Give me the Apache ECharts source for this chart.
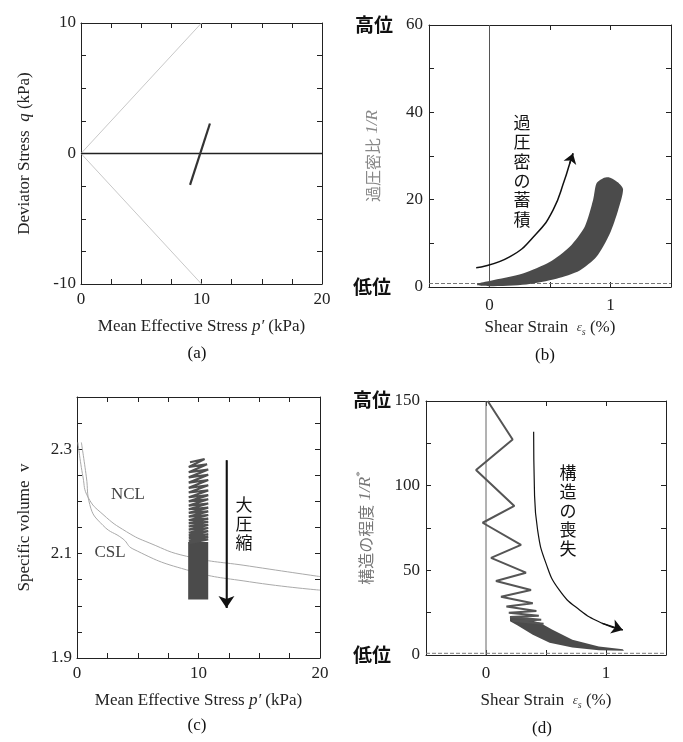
<!DOCTYPE html>
<html>
<head>
<meta charset="utf-8">
<script src="https://cdn.jsdelivr.net/npm/echarts@6/dist/echarts.min.js"></script>
<style>html,body{margin:0;background:#fff}#main{width:683px;height:742px}</style>
</head>
<body>
<div id="main"></div>
<script>
// (a) stress path
var aEnvUpper = [[0, 0], [10, 10]];
var aEnvLower = [[0, 0], [10, -10]];
var aZero = [[0, 0], [20, 0]];
var aPath = [[9.05, -2.4], [10.7, 2.3]];
var aXLabels = [0, 10, 20];
var aYLabels = [-10, 0, 10];

// (b) overconsolidation ratio 1/R
var bBand = [[-0.1, 0.8], [0, 1.4], [0.276, 3.1], [0.497, 5.7], [0.663, 9.2], [0.787, 13.8], [0.856, 19.9],
  [0.884, 23.7], [0.939, 24.9], [0.99, 25.1], [1.06, 24], [1.104, 22.4], [1.063, 17.6], [0.994, 12.2],
  [0.884, 6.9], [0.746, 3.8], [0.553, 1.9], [0.304, 0.6], [0, 0.2], [-0.1, 0.4]];
var bArrow = [[-0.11, 4.4], [0.166, 6.9], [0.387, 12.2], [0.525, 17.6], [0.62, 24.5], [0.663, 28.3], [0.69, 30.6]];
var bDash = [[-0.5, 0.8], [1.5, 0.8]];
var bZeroX = [[0, 0], [0, 60]];
var bXLabels = [0, 1];
var bYLabels = [0, 20, 40, 60];

// (c) specific volume
var cNCL = [[0.08, 2.313], [0.49, 2.247], [0.91, 2.208], [2.14, 2.175], [4.07, 2.142], [6, 2.12],
  [9, 2.095], [14.2, 2.076], [20, 2.056]];
var cCSL = [[0.36, 2.313], [0.77, 2.247], [1.05, 2.194], [2.14, 2.154], [3.79, 2.128], [4.6, 2.109],
  [9, 2.069], [14.2, 2.046], [20, 2.03]];
var cZig = [[9.3, 2.275], [10.5, 2.281], [9.2, 2.266], [10.7, 2.271], [9.2, 2.256], [10.8, 2.261],
  [9.2, 2.246], [10.8, 2.251], [9.2, 2.236], [10.8, 2.241], [9.2, 2.226], [10.8, 2.231],
  [9.2, 2.217], [10.8, 2.221], [9.2, 2.208], [10.8, 2.212], [9.2, 2.2], [10.8, 2.204],
  [9.2, 2.192], [10.8, 2.196], [9.2, 2.185], [10.8, 2.188], [9.2, 2.178], [10.8, 2.181],
  [9.2, 2.171], [10.8, 2.174], [9.2, 2.164], [10.8, 2.167], [9.2, 2.158], [10.8, 2.161],
  [9.2, 2.152], [10.8, 2.155], [9.2, 2.146], [10.8, 2.149], [9.2, 2.14], [10.8, 2.143],
  [9.2, 2.135], [10.8, 2.137], [9.2, 2.13], [10.8, 2.132], [9.2, 2.125], [10.8, 2.127], [9.2, 2.12]];
var cBlock = [[9.15, 2.122], [10.8, 2.122], [10.8, 2.012], [9.15, 2.012]];
var cArrow = [[12.3, 2.279], [12.3, 1.996]];
var cXLabels = [0, 10, 20];
var cYLabels = [1.9, 2.1, 2.3];

// (d) degree of structure 1/R*
var dSaw = [[0.014, 150], [0.222, 127.3], [-0.083, 109.2], [0.236, 88], [-0.028, 78.1], [0.292, 65],
  [0.042, 57.4], [0.333, 48.6], [0.083, 43.7], [0.375, 38.4], [0.125, 34.4], [0.39, 30.5],
  [0.17, 28.6], [0.42, 26], [0.19, 25], [0.44, 23.2], [0.2, 22.5], [0.46, 20.8], [0.22, 20.2], [0.48, 18.5]];
var dTail = [[0.2, 23], [0.35, 21], [0.45, 19], [0.55, 15], [0.72, 9], [0.94, 5], [1.14, 3.4], [1.15, 2.5],
  [0.94, 2.8], [0.72, 4.4], [0.53, 7.3], [0.39, 12], [0.26, 17.5], [0.2, 20]];
var dArrow = [[0.397, 131.8], [0.403, 99.4], [0.43, 73.8], [0.5, 54.1], [0.61, 38.4], [0.78, 26.6], [0.97, 18.7], [1.14, 14.8]];
var dDash = [[-0.5, 1], [1.5, 1]];
var dZeroX = [[0, 0], [0, 150]];
var dXLabels = [0, 1];
var dYLabels = [0, 50, 100, 150];

var SERIF = 'Liberation Serif';
var CJK = 'Noto Sans CJK JP';

var myChart = echarts.init(document.getElementById('main'));

var grids = [
  {left: 81, top: 23, width: 241, height: 261},
  {left: 429, top: 25, width: 242, height: 262},
  {left: 77, top: 397, width: 243, height: 261},
  {left: 426, top: 401, width: 240, height: 254}
];

function pick(labels, digits) {
  return function (v) {
    for (var i = 0; i < labels.length; i++) {
      if (Math.abs(labels[i] - v) < 1e-6) return digits ? v.toFixed(digits) : String(Math.round(v));
    }
    return '';
  };
}

function axis(gi, pos, min, max, interval) {
  return {
    type: 'value', gridIndex: gi, position: pos, min: min, max: max, interval: interval,
    axisLine: {show: true, onZero: false, lineStyle: {color: '#222', width: 1}},
    axisTick: {show: true, inside: true, length: 5, lineStyle: {color: '#222', width: 1}},
    axisLabel: {show: false},
    splitLine: {show: false}
  };
}

function mainAxis(gi, pos, min, max, interval, labels, digits, margin, name, gap, rich, nameColor) {
  var a = axis(gi, pos, min, max, interval);
  a.axisLabel = {show: true, formatter: pick(labels, digits), fontFamily: SERIF, fontSize: 17, color: '#222', margin: margin};
  a.name = name;
  a.nameLocation = 'middle';
  a.nameGap = gap;
  a.nameTextStyle = {fontFamily: SERIF, fontSize: 17, color: nameColor || '#222', rich: rich || {}};
  return a;
}

var richP = {i: {fontFamily: SERIF, fontSize: 17, fontStyle: 'italic', color: '#222'}};
var richEps = {
  e: {fontFamily: SERIF, fontSize: 13, fontStyle: 'italic', color: '#444'},
  s: {fontFamily: SERIF, fontSize: 10, fontStyle: 'italic', color: '#444', padding: [8, 0, 0, 0]}
};
var richB = {
  c: {fontFamily: CJK, fontSize: 16, color: '#888'},
  i: {fontFamily: SERIF, fontSize: 17, fontStyle: 'italic', color: '#888'}
};
var richD = {
  c: {fontFamily: CJK, fontSize: 16, color: '#777'},
  i: {fontFamily: SERIF, fontSize: 17, fontStyle: 'italic', color: '#777'},
  sup: {fontFamily: SERIF, fontSize: 11, color: '#777', padding: [0, 0, 10, 0]}
};

var xAxes = [
  mainAxis(0, 'bottom', 0, 20, 2.5, aXLabels, 0, 7, 'Mean Effective Stress {i|p′} (kPa)', 34, richP),
  axis(0, 'top', 0, 20, 2.5),
  mainAxis(1, 'bottom', -0.5, 1.5, 0.5, bXLabels, 0, 10, 'Shear Strain  {e|ε}{s|s} (%)', 32, richEps),
  axis(1, 'top', -0.5, 1.5, 0.5),
  mainAxis(2, 'bottom', 0, 20, 2.5, cXLabels, 0, 7, 'Mean Effective Stress {i|p′} (kPa)', 34, richP),
  axis(2, 'top', 0, 20, 2.5),
  mainAxis(3, 'bottom', -0.5, 1.5, 0.5, dXLabels, 0, 10, 'Shear Strain  {e|ε}{s|s} (%)', 37, richEps),
  axis(3, 'top', -0.5, 1.5, 0.5)
];

var yAxes = [
  mainAxis(0, 'left', -10, 10, 2.5, aYLabels, 0, 5, 'Deviator Stress  {i|q} (kPa)', 48, richP),
  axis(0, 'right', -10, 10, 2.5),
  mainAxis(1, 'left', 0, 60, 10, bYLabels, 0, 6, '{c|過圧密比} {i|1/R}', 48, richB, '#888'),
  axis(1, 'right', 0, 60, 10),
  mainAxis(2, 'left', 1.9, 2.4, 0.05, cYLabels, 1, 5, 'Specific volume  v', 44),
  axis(2, 'right', 1.9, 2.4, 0.05),
  mainAxis(3, 'left', 0, 150, 25, dYLabels, 0, 6, '{c|構造の程度} {i|1/R}{sup|*}', 50, richD, '#777'),
  axis(3, 'right', 0, 150, 25)
];

function line(gi, pts, color, width, dash, smooth, z) {
  return {
    type: 'line', xAxisIndex: 2 * gi, yAxisIndex: 2 * gi, data: pts,
    symbol: 'none', showSymbol: false, smooth: smooth || false, silent: true, z: z || 2,
    lineStyle: {color: color, width: width, type: dash || 'solid'}
  };
}

function polygon(gi, pts, color, smooth) {
  return {
    type: 'custom', xAxisIndex: 2 * gi, yAxisIndex: 2 * gi, silent: true, z: 3,
    data: [pts[0]],
    renderItem: function (params, api) {
      return {
        type: 'polygon',
        shape: {points: pts.map(function (p) { return api.coord(p); }), smooth: smooth || 0},
        style: {fill: color}
      };
    }
  };
}

function arrowHead(gi, pts, size, width) {
  var n = pts.length;
  return {
    type: 'lines', coordinateSystem: 'cartesian2d', xAxisIndex: 2 * gi, yAxisIndex: 2 * gi,
    symbol: ['none', 'arrow'], symbolSize: size, silent: true, z: 5,
    lineStyle: {color: '#111', width: width, opacity: 1, curveness: 0},
    data: [{coords: [pts[n - 2], pts[n - 1]]}]
  };
}

function txt(x, y, s, font, color, align) {
  return {
    type: 'text', x: x, y: y, silent: true,
    style: {text: s, font: font, fill: color || '#111', align: align || 'center', textAlign: align || 'center',
      verticalAlign: 'middle', textVerticalAlign: 'middle'}
  };
}

function vtxt(x, y, s, size, lh) {
  return {
    type: 'text', x: x, y: y, silent: true,
    style: {text: s.split('').join('\n'), fontFamily: CJK, fontSize: size, lineHeight: lh, fill: '#111',
      align: 'center', textAlign: 'center', verticalAlign: 'top', textVerticalAlign: 'top'}
  };
}

var option = {
  animation: false,
  backgroundColor: '#fff',
  grid: grids,
  xAxis: xAxes,
  yAxis: yAxes,
  series: [
    // (a)
    line(0, aEnvUpper, '#c8c8c8', 1),
    line(0, aEnvLower, '#c8c8c8', 1),
    line(0, aZero, '#222', 1.5),
    line(0, aPath, '#333', 2.2, null, false, 4),
    // (b)
    line(1, bZeroX, '#555', 1),
    line(1, bDash, '#777', 1, 'dashed'),
    polygon(1, bBand, '#4b4b4b', 0.25),
    line(1, bArrow, '#111', 1.5, null, true, 5),
    arrowHead(1, bArrow, 10, 1.5),
    // (c)
    line(2, cNCL, '#aaa', 1, null, true),
    line(2, cCSL, '#aaa', 1, null, true),
    line(2, cZig, '#505050', 2.2, null, false, 4),
    polygon(2, cBlock, '#4b4b4b'),
    line(2, cArrow, '#111', 1.5, null, false, 5),
    arrowHead(2, cArrow, 12, 1.5),
    // (d)
    line(3, dZeroX, '#666', 1),
    line(3, dDash, '#777', 1, 'dashed'),
    line(3, dSaw, '#555', 2, null, false, 4),
    polygon(3, dTail, '#4b4b4b'),
    line(3, dArrow, '#111', 1.2, null, true, 5),
    arrowHead(3, dArrow, 11, 1.2)
  ],
  graphic: [
    txt(197, 354, '(a)', '17px ' + SERIF),
    txt(545, 356, '(b)', '17px ' + SERIF),
    txt(197, 726, '(c)', '17px ' + SERIF),
    txt(542, 729, '(d)', '17px ' + SERIF),
    txt(393, 25, '高位', 'bold 19px ' + CJK, '#111', 'right'),
    txt(391, 287, '低位', 'bold 19px ' + CJK, '#111', 'right'),
    txt(391, 400, '高位', 'bold 19px ' + CJK, '#111', 'right'),
    txt(391, 655, '低位', 'bold 19px ' + CJK, '#111', 'right'),
    txt(128, 495, 'NCL', '17px ' + SERIF, '#444'),
    txt(110, 553, 'CSL', '17px ' + SERIF, '#444'),
    vtxt(522, 113, '過圧密の蓄積', 17, 19.3),
    vtxt(244, 495, '大圧縮', 17, 19),
    vtxt(568, 463, '構造の喪失', 17, 19)
  ]
};
myChart.setOption(option);
</script>
</body>
</html>
